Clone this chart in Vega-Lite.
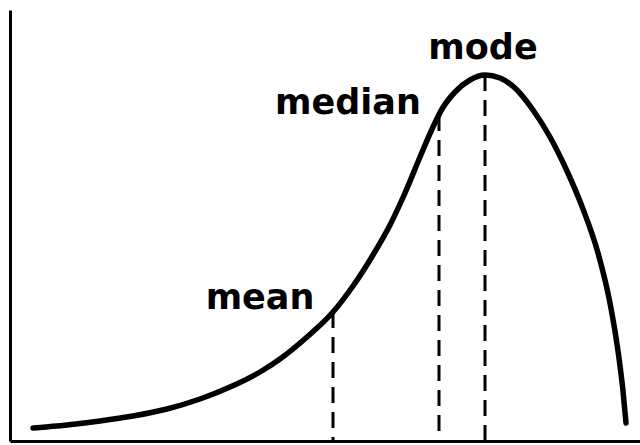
{
  "$schema": "https://vega.github.io/schema/vega-lite/v6.json",
  "width": 630,
  "height": 431,
  "autosize": {"type": "none"},
  "padding": {"left": 10, "top": 10, "right": 0, "bottom": 4},
  "background": "white",
  "config": {"view": {"stroke": null}},
  "datasets": {
    "curve": [
      {"x": 23, "y": 13}, {"x": 57, "y": 16}, {"x": 90, "y": 20}, {"x": 123, "y": 25},
      {"x": 157, "y": 32}, {"x": 190, "y": 42}, {"x": 220, "y": 54}, {"x": 250, "y": 69},
      {"x": 270, "y": 82}, {"x": 297, "y": 104}, {"x": 323, "y": 129}, {"x": 343, "y": 155},
      {"x": 363, "y": 186}, {"x": 380, "y": 216}, {"x": 395, "y": 248}, {"x": 410, "y": 284},
      {"x": 423, "y": 314}, {"x": 432, "y": 332}, {"x": 445, "y": 349}, {"x": 460, "y": 361},
      {"x": 475, "y": 366}, {"x": 490, "y": 363}, {"x": 507, "y": 351}, {"x": 523, "y": 331},
      {"x": 540, "y": 304}, {"x": 557, "y": 270}, {"x": 573, "y": 232}, {"x": 588, "y": 188},
      {"x": 600, "y": 138}, {"x": 608, "y": 90}, {"x": 613, "y": 50}, {"x": 616, "y": 18}
    ],
    "stats": [
      {"name": "mean", "x": 323, "y": 129, "base": 0, "lx": 250, "ly": 132},
      {"name": "median", "x": 429, "y": 326, "base": 0, "lx": 338, "ly": 327},
      {"name": "mode", "x": 475, "y": 366, "base": 0, "lx": 473, "ly": 382}
    ]
  },
  "layer": [
    {
      "data": {"name": "stats"},
      "mark": {"type": "rule", "color": "black", "strokeWidth": 3, "strokeDash": [16, 9]},
      "encoding": {
        "x": {"field": "x", "type": "quantitative", "scale": {"domain": [0, 630], "nice": false, "zero": false},
              "axis": {"domain": true, "domainColor": "black", "domainWidth": 3, "ticks": false, "labels": false, "grid": false, "title": null}},
        "y": {"field": "y", "type": "quantitative", "scale": {"domain": [0, 431], "nice": false, "zero": false},
              "axis": {"domain": true, "domainColor": "black", "domainWidth": 3, "ticks": false, "labels": false, "grid": false, "title": null}},
        "y2": {"field": "base"}
      }
    },
    {
      "data": {"name": "curve"},
      "mark": {"type": "line", "color": "black", "strokeWidth": 5.5, "interpolate": "monotone", "strokeCap": "round"},
      "encoding": {
        "x": {"field": "x", "type": "quantitative"},
        "y": {"field": "y", "type": "quantitative"}
      }
    },
    {
      "data": {"name": "stats"},
      "mark": {"type": "text", "font": "DejaVu Sans", "fontWeight": "bold", "fontSize": 35, "align": "center", "baseline": "alphabetic", "color": "black"},
      "encoding": {
        "x": {"field": "lx", "type": "quantitative"},
        "y": {"field": "ly", "type": "quantitative"},
        "text": {"field": "name"}
      }
    }
  ]
}
